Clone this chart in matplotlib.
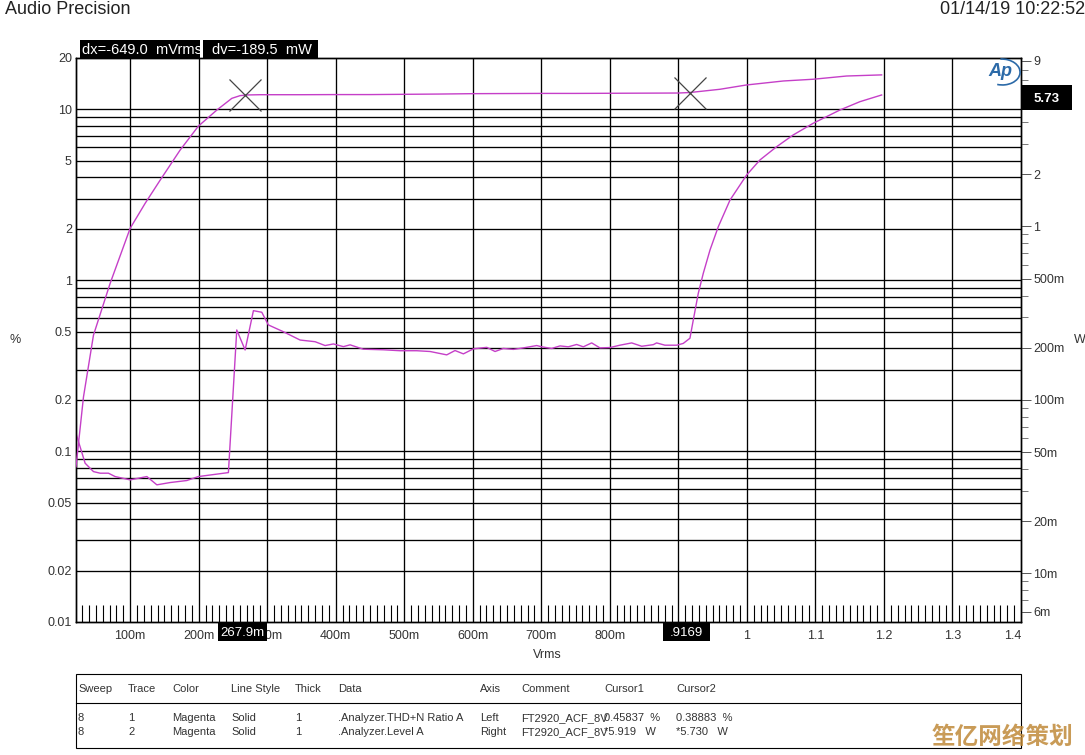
import matplotlib
matplotlib.use('Agg')
import matplotlib.pyplot as plt
from matplotlib.patches import Rectangle, Arc
from matplotlib.ticker import FixedLocator, MultipleLocator, NullLocator, LogLocator, NullFormatter
import numpy as np

plt.rcParams['font.family'] = ['Liberation Sans', 'DejaVu Sans']

# ---------------- data ----------------
thd_x = [0.021, 0.0343, 0.0465, 0.0562, 0.0683, 0.0781, 0.1, 0.1244, 0.139, 0.1584, 0.1827, 0.1996,
         0.2434, 0.2556, 0.2678, 0.2799, 0.2921, 0.3017, 0.3236, 0.348, 0.3699, 0.3845, 0.3966, 0.4112,
         0.421, 0.4403, 0.4695, 0.494, 0.5183, 0.5377, 0.562, 0.5741, 0.5863, 0.6009, 0.6204, 0.6325,
         0.6446, 0.6592, 0.6737, 0.6933, 0.7006, 0.7152, 0.7273, 0.7394, 0.7516, 0.7613, 0.7735, 0.7856,
         0.8002, 0.8148, 0.8319, 0.8465, 0.8634, 0.8683, 0.8804, 0.8975, 0.9071, 0.9169, 0.9218, 0.9291,
         0.9364, 0.9462, 0.9583, 0.9754, 0.9996, 1.019, 1.0434, 1.0676, 1.0968, 1.1357, 1.1649, 1.1966]
thd_pct = [0.127, 0.085, 0.0759, 0.0743, 0.0743, 0.071, 0.0679, 0.071, 0.0635, 0.0655, 0.0673, 0.071,
           0.0749, 0.512, 0.391, 0.664, 0.65, 0.548, 0.50, 0.447, 0.437, 0.415, 0.424, 0.409,
           0.419, 0.395, 0.392, 0.387, 0.387, 0.383, 0.366, 0.388, 0.371, 0.397, 0.405, 0.383,
           0.399, 0.394, 0.402, 0.415, 0.408, 0.399, 0.413, 0.408, 0.421, 0.408, 0.43, 0.402,
           0.404, 0.417, 0.43, 0.411, 0.42, 0.43, 0.417, 0.417, 0.427, 0.458, 0.586, 0.84,
           1.10, 1.505, 2.06, 2.95, 4.13, 5.06, 6.05, 7.09, 8.30, 9.92, 11.1, 12.15]

lvl_x = [0.021, 0.0319, 0.0465, 0.0708, 0.1, 0.1219, 0.1438, 0.173, 0.1996, 0.2265, 0.2484, 0.2605,
         0.2702, 0.29, 0.35, 0.4, 0.45, 0.5, 0.55, 0.6, 0.65, 0.7, 0.75, 0.8, 0.85, 0.9, 0.9169,
         0.9607, 0.999, 1.0534, 1.0968, 1.1455, 1.1966]
lvl_w = [0.0412, 0.104, 0.2365, 0.470, 0.976, 1.36, 1.85, 2.76, 3.79, 4.69, 5.48, 5.68,
         5.73, 5.75, 5.75, 5.76, 5.76, 5.78, 5.80, 5.83, 5.84, 5.85, 5.85, 5.86, 5.87, 5.88, 5.92,
         6.18, 6.54, 6.90, 7.06, 7.37, 7.48]

cursor_x = [0.2679, 0.9169]
cursor_w = [5.73, 5.92]
cursor_x_labels = ['267.9m', '.9169']

x_tick_vals = [0.1, 0.2, 0.3, 0.4, 0.5, 0.6, 0.7, 0.8, 0.9, 1.0, 1.1, 1.2, 1.3, 1.4]
x_tick_labels = ['100m', '200m', '300m', '400m', '500m', '600m', '700m', '800m', '900m',
                 '1', '1.1', '1.2', '1.3', '1.4']
left_tick_vals = [20, 10, 5, 2, 1, 0.5, 0.2, 0.1, 0.05, 0.02, 0.01]
left_tick_labels = ['20', '10', '5', '2', '1', '0.5', '0.2', '0.1', '0.05', '0.02', '0.01']
right_tick_vals = [9, 2, 1, 0.5, 0.2, 0.1, 0.05, 0.02, 0.01, 0.006]
right_tick_labels = ['9', '2', '1', '500m', '200m', '100m', '50m', '20m', '10m', '6m']

table_header = ['Sweep', 'Trace', 'Color', 'Line Style', 'Thick', 'Data', 'Axis', 'Comment', 'Cursor1', 'Cursor2']
table_row1 = ['8', '1', 'Magenta', 'Solid', '1', '.Analyzer.THD+N Ratio A', 'Left', 'FT2920_ACF_8V', '0.45837  %', '0.38883  %']
table_row2 = ['8', '2', 'Magenta', 'Solid', '1', '.Analyzer.Level A', 'Right', 'FT2920_ACF_8V', '*5.919   W', '*5.730   W']

# ---------------- figure ----------------
W, H = 1085, 755
fig = plt.figure(figsize=(W / 100, H / 100), dpi=100)


def fx(p):
    return p / W


def fy(p):
    return 1 - p / H


ax = fig.add_axes([fx(76), fy(622), fx(1021) - fx(76), fy(58) - fy(622)])
ax.set_xlim(0.021, 1.4)
ax.set_yscale('log')
ax.set_ylim(0.01, 20)

txt = '#333333'
curve_col = '#c53fc8'

# horizontal grid (left axis)
grid_vals = [m * 10.0 ** e for e in (-2, -1, 0) for m in range(1, 10)]
grid_vals = [g for g in grid_vals if 0.015 < g <= 10.001] + [10]
for g in grid_vals:
    ax.axhline(g, color='black', lw=0.95, zorder=1)
for xv in x_tick_vals[:-1]:
    ax.axvline(xv, color='black', lw=0.95, zorder=1)

ax.xaxis.set_major_locator(FixedLocator(x_tick_vals))
ax.set_xticklabels(x_tick_labels)
ax.xaxis.set_minor_locator(MultipleLocator(0.01))
ax.tick_params(axis='x', which='major', length=0, pad=6, labelsize=9, labelcolor=txt)
ax.tick_params(axis='x', which='minor', direction='in', length=12.5, width=0.8, color='black')
labs = ax.get_xticklabels()
labs[-1].set_horizontalalignment('right')

ax.yaxis.set_major_locator(FixedLocator(left_tick_vals))
ax.set_yticklabels(left_tick_labels)
ax.yaxis.set_minor_locator(NullLocator())
ax.tick_params(axis='y', which='major', length=0, pad=3, labelsize=9, labelcolor=txt)
for s in ax.spines.values():
    s.set_color('black')
    s.set_linewidth(1.0)

ax.plot(thd_x, thd_pct, color=curve_col, lw=1.0, zorder=3)

ax2 = ax.twinx()
ax2.set_yscale('log')
ax2.set_ylim(0.00525, 9.36)
ax2.yaxis.set_major_locator(FixedLocator(right_tick_vals))
ax2.set_yticklabels(right_tick_labels)
ax2.yaxis.set_minor_locator(LogLocator(base=10, subs=np.arange(2, 10)))
ax2.yaxis.set_minor_formatter(NullFormatter())
ax2.tick_params(axis='y', which='major', direction='out', length=7, width=0.7, color='#555555',
                pad=2, labelsize=9, labelcolor=txt)
ax2.tick_params(axis='y', which='minor', direction='out', length=5, width=0.7, color='#777777')
for s in ax2.spines.values():
    s.set_color('black')
    s.set_linewidth(1.0)
ax2.plot(lvl_x, lvl_w, color=curve_col, lw=1.0, zorder=3)
ax2.plot(cursor_x, cursor_w, linestyle='none', marker='x', markersize=23, markeredgewidth=0.9,
         color='#444444', zorder=4)

# ---------------- texts ----------------
fig.text(fx(5), fy(10), 'Audio Precision', fontsize=13, color='#222222', va='center', ha='left')
fig.text(fx(1085), fy(10), '01/14/19 10:22:52', fontsize=13, color='#222222', va='center', ha='right')
fig.text(fx(15), fy(340), '%', fontsize=9, color=txt, va='center', ha='center')
fig.text(fx(1080), fy(340), 'W', fontsize=9, color=txt, va='center', ha='center')
fig.text(fx(547), fy(655), 'Vrms', fontsize=9, color=txt, va='center', ha='center')


def black_box(x0, y0, x1, y1, text, tx=None, ha='center', size=9.5, bold=False):
    fig.patches.append(Rectangle((fx(x0), fy(y1)), fx(x1) - fx(x0), fy(y0) - fy(y1),
                                 transform=fig.transFigure, facecolor='black', edgecolor='none',
                                 zorder=5))
    if tx is None:
        tx = (x0 + x1) / 2
    fig.text(fx(tx), fy((y0 + y1) / 2 + 1), text, color='white', fontsize=size, ha=ha, va='center',
             fontweight='bold' if bold else 'normal', zorder=6)


black_box(80, 40, 200, 58, 'dx=-649.0  mVrms', tx=82, ha='left', size=10.5)
black_box(203, 40, 318, 58, 'dv=-189.5  mW', tx=212, ha='left', size=10.5)
black_box(1021, 85, 1072, 110, '5.73', size=9.5, bold=True)
black_box(218, 623, 267, 641, cursor_x_labels[0], size=9.5)
black_box(663, 623, 710, 641, cursor_x_labels[1], size=9.5)

# AP logo
fig.text(fx(1000), fy(72), 'Ap', fontsize=13, style='italic', color='#2c6aa8', ha='center', va='center',
         fontweight='bold')
fig.patches.append(Arc((fx(1002), fy(72)), fx(36), 26 / H, angle=15, theta1=-120, theta2=80,
                       transform=fig.transFigure, color='#2c6aa8', lw=1.2))

# table
fig.patches.append(Rectangle((fx(76), fy(748)), fx(1021) - fx(76), fy(674) - fy(748),
                             transform=fig.transFigure, facecolor='none', edgecolor='black', lw=0.8))
fig.lines.append(plt.Line2D([fx(76), fx(1021)], [fy(703), fy(703)], transform=fig.transFigure,
                            color='black', lw=0.8))
col_x = [78, 128, 172, 231, 295, 338, 480, 521, 604, 676]
for cx, h in zip(col_x, table_header):
    fig.text(fx(cx), fy(689), h, fontsize=8, color=txt, va='center', ha='left')
for cx, v in zip(col_x, table_row1):
    fig.text(fx(cx), fy(718), v, fontsize=8, color=txt, va='center', ha='left')
for cx, v in zip(col_x, table_row2):
    fig.text(fx(cx), fy(732), v, fontsize=8, color=txt, va='center', ha='left')

# watermark
fig.text(fx(1003), fy(737), '笙亿网络策划', fontsize=17, fontweight='bold', color='#c08a3a', alpha=0.85,
         ha='center', va='center', family=['Noto Sans CJK SC', 'DejaVu Sans'], zorder=7)

fig.savefig('out.png', dpi=100)
